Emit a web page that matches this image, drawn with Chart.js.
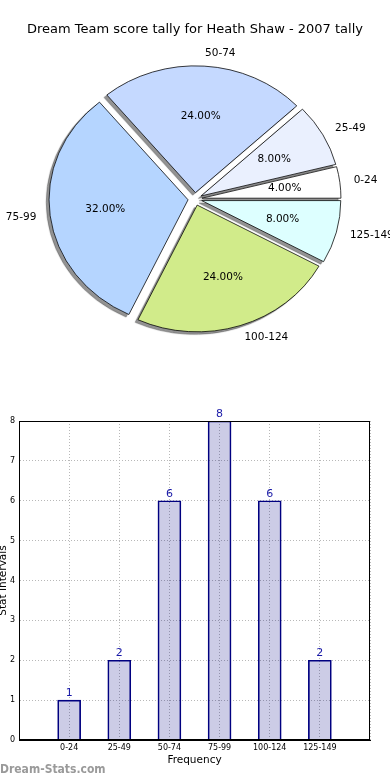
<!DOCTYPE html>
<html>
<head>
<meta charset="utf-8">
<script src="https://cdn.jsdelivr.net/npm/chart.js@4.4.1/dist/chart.umd.min.js"></script>
<style>
  html, body { margin: 0; padding: 0; background: #fff; }
  #wrap { position: relative; width: 390px; height: 780px; }
  canvas { position: absolute; left: 0; }
</style>
</head>
<body>
<div id="wrap">
  <canvas id="pie" width="390" height="400" style="top:0"></canvas>
  <canvas id="bar" width="390" height="380" style="top:400px"></canvas>
</div>
<script>
// score intervals and how many games fell in each
const categories = ['0-24', '25-49', '50-74', '75-99', '100-124', '125-149']
const counts = [1, 2, 6, 8, 6, 2]
const sliceColors = ['#ffffff', '#eaf0fe', '#c5d9ff', '#b5d5ff', '#d1eb8a', '#ddffff']
const yMax = 8

Chart.defaults.font.family = '"DejaVu Sans", sans-serif'
Chart.defaults.color = '#000'

// matplotlib draws counter-clockwise from 3 o'clock, chart.js goes clockwise,
// so feed the slices in reverse and start at 90deg
const pieLabels = categories.slice().reverse()
const pieCounts = counts.slice().reverse()
const pieColors = sliceColors.slice().reverse()
const total = counts.reduce((a, b) => a + b, 0)

const explode = 7      // px each slice is pushed out
const squash = 0.912   // pie is a bit flatter than wide

function drawExploded(ctx, arc, shiftX) {
  const mid = (arc.startAngle + arc.endAngle) / 2
  ctx.save()
  ctx.translate(Math.cos(mid) * explode + shiftX, Math.sin(mid) * explode)
  arc.draw(ctx)
  ctx.restore()
}

const pieLook = {
  id: 'pieLook',
  beforeDatasetDraw(chart, args) {
    const ctx = chart.ctx
    const arcs = args.meta.data
    const cx = arcs[0].x, cy = arcs[0].y
    const far = 1000
    ctx.save()
    ctx.translate(cx, cy)
    ctx.scale(1, squash)
    ctx.translate(-cx, -cy)
    // shadows first: shapes go off canvas, only their shadow lands
    ctx.shadowColor = 'rgba(40,40,40,0.5)'
    ctx.shadowBlur = 0.8
    ctx.shadowOffsetX = far - 2.8
    ctx.shadowOffsetY = 2.5
    arcs.forEach(a => drawExploded(ctx, a, -far))
    ctx.shadowColor = 'rgba(0,0,0,0)'
    ctx.shadowBlur = 0
    ctx.shadowOffsetX = 0
    ctx.shadowOffsetY = 0
    arcs.forEach(a => drawExploded(ctx, a, 0))
    ctx.restore()
    return false
  },
  afterDraw(chart) {
    const ctx = chart.ctx
    const arcs = chart.getDatasetMeta(0).data
    ctx.save()
    ctx.font = '10.5px "DejaVu Sans"'
    ctx.fillStyle = '#000'
    ctx.textBaseline = 'middle'
    arcs.forEach((arc, i) => {
      const mid = (arc.startAngle + arc.endAngle) / 2
      const c = Math.cos(mid), s = Math.sin(mid)
      const r = arc.outerRadius
      const lr = explode + 1.1 * r
      ctx.textAlign = c > 0 ? 'left' : 'right'
      ctx.fillText(pieLabels[i], arc.x + c * lr, arc.y + s * lr * squash)
      const pr = explode + 0.6 * r
      ctx.textAlign = 'center'
      const pct = (pieCounts[i] / total * 100).toFixed(2) + '%'
      ctx.fillText(pct, arc.x + c * pr, arc.y + s * pr * squash)
    })
    ctx.restore()
  }
}

new Chart(document.getElementById('pie'), {
  type: 'pie',
  data: {
    labels: pieLabels,
    datasets: [{
      data: pieCounts,
      backgroundColor: pieColors,
      borderColor: '#000',
      borderWidth: 0.8,
      rotation: 90,
      radius: 139
    }]
  },
  options: {
    responsive: false,
    animation: false,
    events: [],
    layout: { padding: { top: 0, bottom: 49.3 } },
    plugins: {
      legend: { display: false },
      tooltip: { enabled: false },
      title: {
        display: true,
        text: 'Dream Team score tally for Heath Shaw - 2007 tally',
        color: '#000',
        font: { size: 13, weight: 'normal' },
        padding: { top: 21.7, bottom: 10 }
      }
    }
  },
  plugins: [pieLook]
})

const barLook = {
  id: 'barLook',
  afterDatasetsDraw(chart) {
    const ctx = chart.ctx
    const a = chart.chartArea
    ctx.save()
    ctx.strokeStyle = '#000'
    ctx.lineWidth = 1
    ctx.strokeRect(a.left + 0.5, a.top + 0.5, a.right - a.left - 1, a.bottom - a.top - 1)
    ctx.font = '11px "DejaVu Sans"'
    ctx.fillStyle = '#1a1aa8'
    ctx.textAlign = 'center'
    ctx.textBaseline = 'alphabetic'
    chart.getDatasetMeta(0).data.forEach((bar, i) => {
      ctx.fillText(String(counts[i]), bar.x, bar.y - 4)
    })
    ctx.restore()
  },
  afterDraw(chart) {
    const ctx = chart.ctx
    ctx.save()
    ctx.font = 'bold 12px "DejaVu Sans Condensed", "DejaVu Sans"'
    ctx.fillStyle = '#9a9a9a'
    ctx.textAlign = 'left'
    ctx.textBaseline = 'middle'
    ctx.fillText('Dream-Stats.com', 0, 370)
    ctx.restore()
  }
}

new Chart(document.getElementById('bar'), {
  type: 'bar',
  data: {
    datasets: [{
      data: counts.map((v, i) => ({ x: i, y: v })),
      backgroundColor: 'rgba(0,0,128,0.2)',
      borderColor: '#000080',
      borderWidth: 1,
      barThickness: 23
    }]
  },
  options: {
    responsive: false,
    animation: false,
    events: [],
    layout: { padding: { top: 21, right: 20, left: 0, bottom: 0 } },
    plugins: { legend: { display: false }, tooltip: { enabled: false } },
    scales: {
      x: {
        type: 'linear',
        min: -1,
        max: 6,
        offset: false,
        afterFit: axis => { axis.height = 40 },
        grid: { color: '#b8b8b8', lineWidth: 1, drawTicks: false, offset: false },
        border: { display: true, color: '#000', dash: [1, 2] },
        ticks: {
          stepSize: 1,
          autoSkip: false,
          maxRotation: 0,
          padding: 3,
          font: { size: 8 },
          callback: v => categories[v] ?? ''
        },
        title: {
          display: true,
          text: 'Frequency',
          font: { size: 10.5 },
          padding: { top: 0, bottom: 13.5 }
        }
      },
      y: {
        min: 0,
        max: yMax,
        afterFit: axis => { axis.width = 19 },
        grid: { color: '#b8b8b8', lineWidth: 1, drawTicks: false },
        border: { display: true, color: '#000', dash: [1, 2] },
        ticks: { stepSize: 1, padding: 4, font: { size: 8 } },
        title: {
          display: true,
          text: 'Stat Intervals',
          font: { size: 10.5, lineHeight: 0.7 },
          padding: 0
        }
      }
    }
  },
  plugins: [barLook]
})
</script>
</body>
</html>
